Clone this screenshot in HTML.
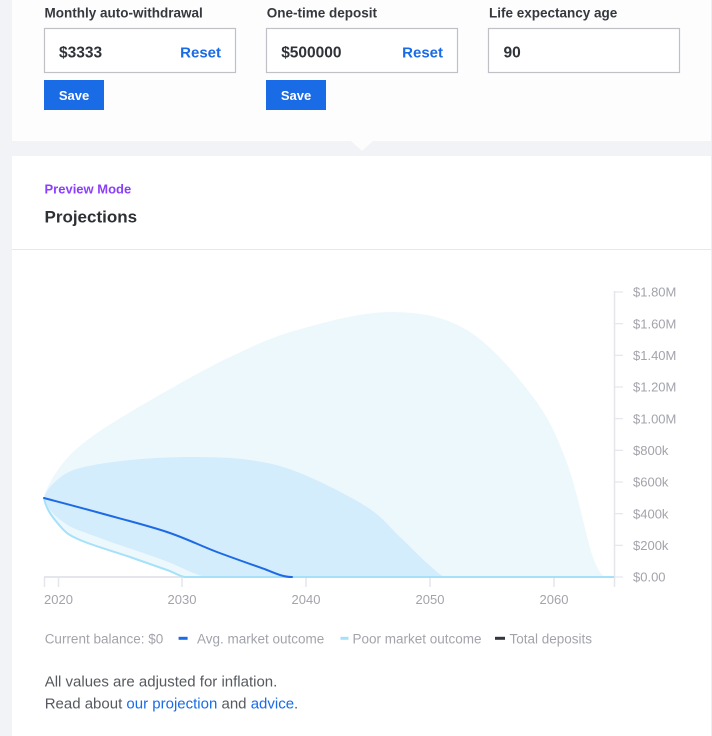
<!DOCTYPE html>
<html>
<head>
<meta charset="utf-8">
<style>
  html,body{margin:0;padding:0;background:#f2f3f7;}
  body{width:712px;height:736px;overflow:hidden;font-family:"Liberation Sans",sans-serif;}
  svg{display:block;}
</style>
</head>
<body>
<svg width="712" height="736" viewBox="0 0 712 736" xmlns="http://www.w3.org/2000/svg" font-family="Liberation Sans, sans-serif">
  <rect x="0" y="0" width="712" height="736" fill="#f2f3f7"/>
  <rect x="12" y="0" width="699" height="141" fill="#fdfdfe"/>
  <polygon points="351,141 373,141 362,151" fill="#fdfdfe"/>
  <rect x="12" y="156" width="699" height="580" fill="#ffffff"/>
  <line x1="711.5" y1="0" x2="711.5" y2="736" stroke="#eceef2" stroke-width="1"/>

  <g font-size="13.5" font-weight="bold" fill="#35383d">
    <text x="44.5" y="17.3">Monthly auto-withdrawal</text>
    <text x="266.8" y="17.3">One-time deposit</text>
    <text x="489" y="17.3">Life expectancy age</text>
  </g>
  <g fill="#ffffff" stroke="#bfc1c7" stroke-width="1.2">
    <rect x="44.5" y="28.5" width="191" height="44"/>
    <rect x="266.5" y="28.5" width="191" height="44"/>
    <rect x="488.5" y="28.5" width="191" height="44"/>
  </g>
  <g font-size="15.5" font-weight="bold" fill="#2f3237">
    <text x="59" y="57.3">$3333</text>
    <text x="281.2" y="57.3">$500000</text>
    <text x="503.5" y="57.3">90</text>
  </g>
  <g font-size="15" font-weight="bold" fill="#1a6be6" text-anchor="end">
    <text x="221" y="57.3">Reset</text>
    <text x="443" y="57.3">Reset</text>
  </g>
  <rect x="44" y="80" width="60" height="30" fill="#1a6be6"/>
  <rect x="266" y="80" width="60" height="30" fill="#1a6be6"/>
  <g font-size="13" font-weight="bold" fill="#ffffff" text-anchor="middle">
    <text x="74" y="100">Save</text>
    <text x="296" y="100">Save</text>
  </g>

  <text x="44.5" y="193.3" font-size="13" font-weight="bold" fill="#8a3ffc">Preview Mode</text>
  <text x="44.5" y="222.5" font-size="17" font-weight="bold" fill="#2d3035">Projections</text>
  <line x1="12" y1="249.5" x2="711" y2="249.5" stroke="#e6e8ec" stroke-width="1"/>

  <!-- outer band -->
  <path fill="#edf8fd" d="M44,498 C45,490 54.2,473.8 63,463 C71.8,452.2 80.3,444.7 97,433 C113.7,421.3 140.8,405.7 163,393 C185.2,380.3 207.7,367.5 230,357 C252.3,346.5 270.3,337.5 297,330 C323.7,322.5 361.7,312 390,312 C418.3,312 443.2,315.8 467,330 C490.8,344.2 516.3,374.8 533,397 C549.7,419.2 557,436.3 567,463 C577,489.7 586.2,538 593,557 C599.8,576 604,577 608,577 L185,577 C180,576.5 176.2,573.3 167,570 C157.8,566.7 144.5,562 130,557 C115.5,552 91.7,545.2 80,540 C68.3,534.8 66,533 60,526 C54,519 46,510 44,498 Z"/>
  <!-- inner band -->
  <path fill="#d4edfc" d="M44,498 C45,492 51,485 57,480 C63,475 67.8,471.3 80,468 C92.2,464.7 111.7,461.8 130,460 C148.3,458.2 170,457 190,457 C210,457 231.7,457.3 250,460 C268.3,462.7 280.5,465.2 300,473 C319.5,480.8 350.3,496.3 367,507 C383.7,517.7 390,527.7 400,537 C410,546.3 419.2,556.3 427,563 C434.8,569.7 441,577 447,577 L207,577 C195,575.5 181.3,566.7 163,560 C144.7,553.3 113.7,543.3 97,537 C80.3,530.7 71.8,528.5 63,522 C54.2,515.5 46,508 44,498 Z"/>

  <!-- x axis -->
  <line x1="44" y1="577" x2="614" y2="577" stroke="#e4e6ec" stroke-width="2"/>
  <g stroke="#e4e6ec" stroke-width="1.5">
    <line x1="44.5" y1="577" x2="44.5" y2="587"/>
    <line x1="58.5" y1="577" x2="58.5" y2="587"/>
    <line x1="182" y1="577" x2="182" y2="587"/>
    <line x1="306" y1="577" x2="306" y2="587"/>
    <line x1="430" y1="577" x2="430" y2="587"/>
    <line x1="554" y1="577" x2="554" y2="587"/>
  </g>
  <!-- y axis -->
  <line x1="614.5" y1="291" x2="614.5" y2="587" stroke="#e4e6ec" stroke-width="1.5"/>
  <g stroke="#e4e6ec" stroke-width="1.2">
    <line x1="614" y1="577" x2="623" y2="577"/>
    <line x1="614" y1="545.3" x2="623" y2="545.3"/>
    <line x1="614" y1="513.7" x2="623" y2="513.7"/>
    <line x1="614" y1="482" x2="623" y2="482"/>
    <line x1="614" y1="450.3" x2="623" y2="450.3"/>
    <line x1="614" y1="418.7" x2="623" y2="418.7"/>
    <line x1="614" y1="387" x2="623" y2="387"/>
    <line x1="614" y1="355.3" x2="623" y2="355.3"/>
    <line x1="614" y1="323.7" x2="623" y2="323.7"/>
    <line x1="614" y1="292" x2="623" y2="292"/>
  </g>

  <!-- poor line -->
  <path fill="none" stroke="#a6e1fa" stroke-width="2" d="M44,498 C46,510 54,519 60,526 C66,533 68.3,534.8 80,540 C91.7,545.2 115.5,552 130,557 C144.5,562 157.8,566.7 167,570 C176.2,573.3 180,576.5 185,577 L614,577"/>
  <!-- avg line -->
  <path fill="none" stroke="#1d6ae5" stroke-width="2" stroke-linecap="round" d="M44,498 C53.3,500.5 79.5,507.3 100,513 C120.5,518.7 147.5,525.5 167,532 C186.5,538.5 200.3,545.7 217,552 C233.7,558.3 256,566 267,570 C278,574.5 284,577 292,577"/>

  <g font-size="13" fill="#a3a4ab">
    <text x="633" y="581.7">$0.00</text>
    <text x="633" y="550">$200k</text>
    <text x="633" y="518.4">$400k</text>
    <text x="633" y="486.7">$600k</text>
    <text x="633" y="455">$800k</text>
    <text x="633" y="423.4">$1.00M</text>
    <text x="633" y="391.7">$1.20M</text>
    <text x="633" y="360">$1.40M</text>
    <text x="633" y="328.4">$1.60M</text>
    <text x="633" y="296.7">$1.80M</text>
  </g>
  <g font-size="13" fill="#a3a4ab" text-anchor="middle">
    <text x="58.5" y="604">2020</text>
    <text x="182" y="604">2030</text>
    <text x="306" y="604">2040</text>
    <text x="430" y="604">2050</text>
    <text x="554" y="604">2060</text>
  </g>

  <g font-size="13.5" fill="#a3a4ab">
    <text x="44.7" y="643.3">Current balance: $0</text>
    <text x="197" y="643.3">Avg. market outcome</text>
    <text x="352.5" y="643.3">Poor market outcome</text>
    <text x="509.5" y="643.3">Total deposits</text>
  </g>
  <rect x="178.6" y="636.8" width="9" height="3" fill="#1d6ae5"/>
  <rect x="340.5" y="636.8" width="8" height="3" fill="#a6e1fa"/>
  <rect x="495" y="636.8" width="10" height="3" fill="#33363b"/>

  <g font-size="15" fill="#56595f">
    <text x="44.7" y="686.7">All values are adjusted for inflation.</text>
    <text x="44.7" y="708.7">Read about <tspan fill="#1a6be6">our projection</tspan> and <tspan fill="#1a6be6">advice</tspan>.</text>
  </g>
</svg>
</body>
</html>
